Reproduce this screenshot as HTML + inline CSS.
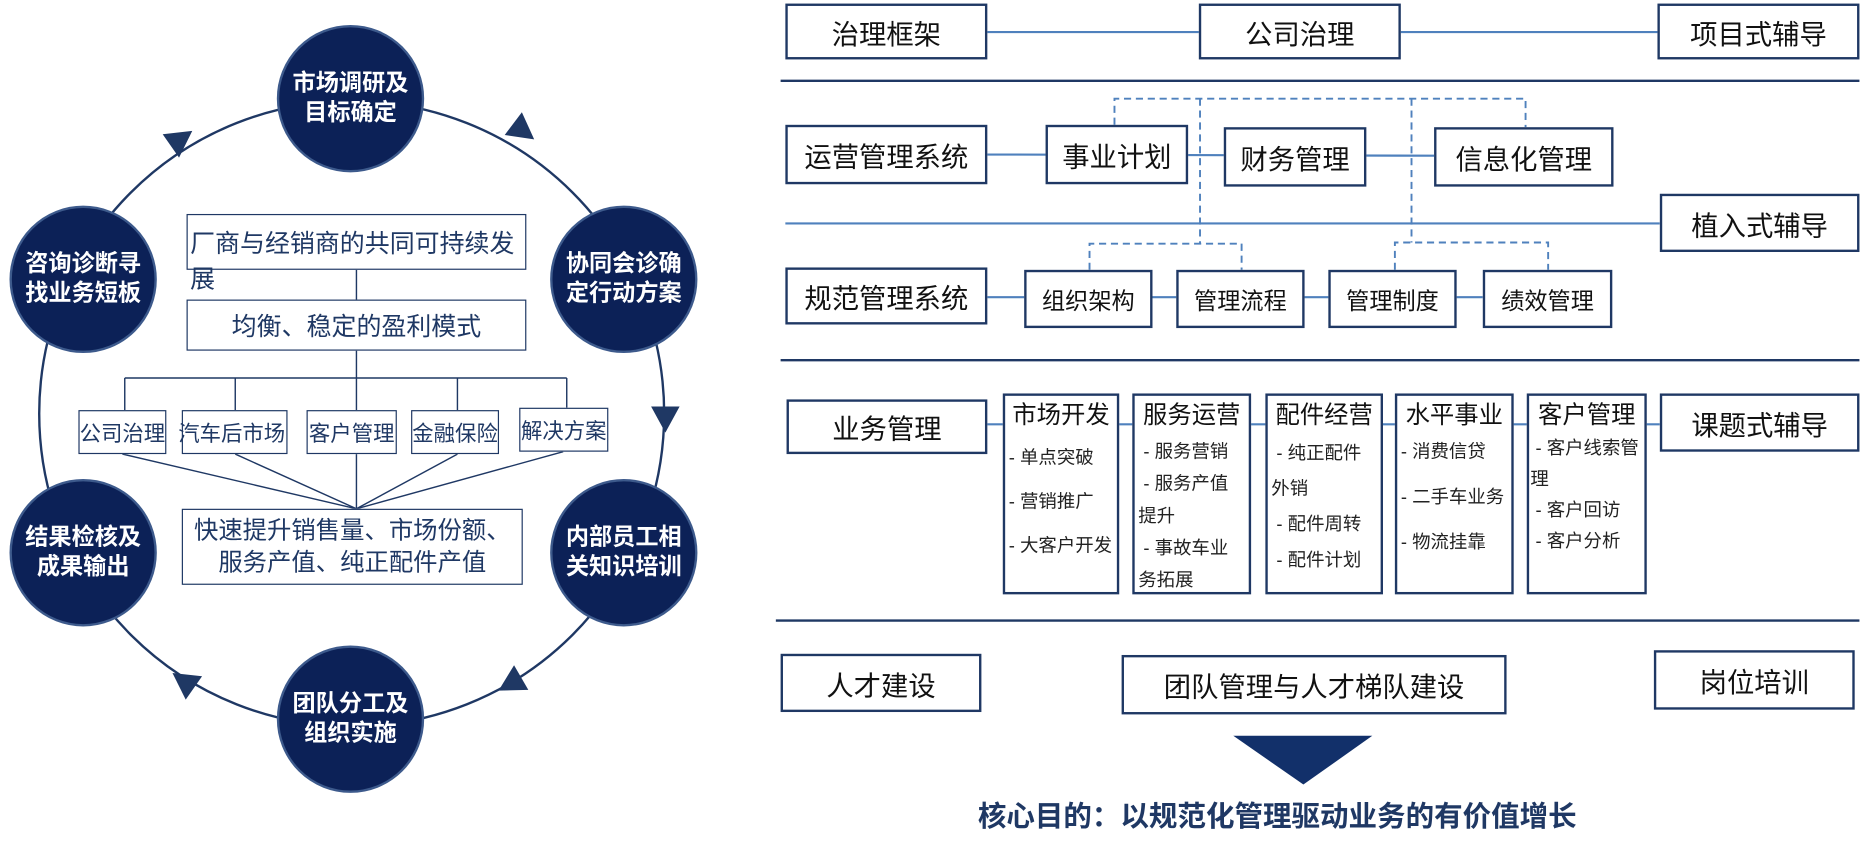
<!DOCTYPE html>
<html><head><meta charset="utf-8"><style>
html,body{margin:0;padding:0;background:#fff;width:1863px;height:844px;overflow:hidden}
#c{position:absolute;left:0;top:0;width:1568px;height:710px;transform:scale(1.18814,1.1887);transform-origin:0 0;font-family:"Liberation Sans","Noto Sans CJK SC",sans-serif}
.b{position:absolute;box-sizing:border-box;border:2.5px solid #1f3864;display:flex;align-items:center;justify-content:center;color:#111;font-size:23px;background:#fff;white-space:nowrap}
.n{position:absolute;width:124px;height:124px;border-radius:50%;background:#0c2157;border:2px solid #3d5a8c;box-sizing:border-box;color:#fff;font-weight:bold;font-size:19.5px;line-height:25px;display:flex;align-items:center;justify-content:center;text-align:center}
.s{border-width:1.5px;font-size:18px;color:#1f3864}
.col{position:absolute;box-sizing:border-box;border:2.5px solid #1f3864;background:#fff;color:#222;font-size:15.5px;line-height:27px;padding:0 3px;white-space:normal;overflow:visible}
.col .t{font-size:20.5px;text-align:center;line-height:34px;color:#111;margin:0 -3px;white-space:nowrap}
svg{position:absolute;left:0;top:0}
</style></head><body><div id="c">
<svg width="1568" height="710">
<circle cx="296" cy="348" r="263" fill="none" stroke="#1f3864" stroke-width="2"/>
<g fill="#1f3864">
<polygon points="-10,-12 12,0 -10,12" transform="translate(440,110) rotate(37)"/>
<polygon points="-10,-12 12,0 -10,12" transform="translate(560,352) rotate(90)"/>
<polygon points="-10,-12 12,0 -10,12" transform="translate(430,575) rotate(150)"/>
<polygon points="-10,-12 12,0 -10,12" transform="translate(155,573) rotate(215)"/>
<polygon points="-10,-12 12,0 -10,12" transform="translate(152,117) rotate(-35)"/>
</g>
<g stroke="#1f3864" stroke-width="1.2" fill="none">
<line x1="300" y1="227" x2="300" y2="252"/>
<line x1="300" y1="295" x2="300" y2="318"/>
<line x1="105" y1="318" x2="477" y2="318"/>
<line x1="105" y1="318" x2="105" y2="345"/><line x1="198" y1="318" x2="198" y2="345"/><line x1="300" y1="318" x2="300" y2="345"/><line x1="385" y1="318" x2="385" y2="345"/><line x1="477" y1="318" x2="477" y2="343"/>
<line x1="103" y1="382" x2="300" y2="428"/><line x1="198" y1="382" x2="300" y2="428"/><line x1="300" y1="382" x2="300" y2="428"/><line x1="385" y1="382" x2="300" y2="428"/><line x1="474" y1="380" x2="300" y2="428"/>
</g>
<g stroke="#4f81bd" stroke-width="1.8" fill="none">
<line x1="831" y1="27" x2="1395" y2="27"/>
<line x1="831" y1="130" x2="1207" y2="131"/>
<line x1="661" y1="188" x2="1397" y2="188"/>
<line x1="831" y1="250" x2="1248" y2="250"/>
<line x1="831" y1="357" x2="1397" y2="357"/>
</g>
<g stroke="#4f81bd" stroke-width="1.6" fill="none" stroke-dasharray="6,4">
<polyline points="938,105 938,83 1284,83 1284,107"/>
<line x1="1010" y1="83" x2="1010" y2="205"/>
<line x1="1188" y1="83" x2="1188" y2="204"/>
<polyline points="917,227 917,205 1045,205 1045,227"/>
<polyline points="1174,227 1174,204 1303,204 1303,227"/>
</g>
<g stroke="#1f3864" stroke-width="2">
<line x1="657" y1="68" x2="1565" y2="68"/>
<line x1="657" y1="303" x2="1565" y2="303"/>
<line x1="653" y1="522" x2="1565" y2="522"/>
</g>
<polygon points="1038,619 1155,619 1097,660" fill="#12306a"/>
</svg>

<div class="n" style="left:233px;top:21px">市场调研及<br>目标确定</div>
<div class="n" style="left:463px;top:173px">协同会诊确<br>定行动方案</div>
<div class="n" style="left:463px;top:403px">内部员工相<br>关知识培训</div>
<div class="n" style="left:233px;top:543px">团队分工及<br>组织实施</div>
<div class="n" style="left:8px;top:403px">结果检核及<br>成果输出</div>
<div class="n" style="left:8px;top:173px">咨询诊断寻<br>找业务短板</div>

<div class="b s" style="left:157px;top:180px;width:286px;height:47px;font-size:21px;align-items:flex-start;justify-content:flex-start;overflow:visible"><span style="position:absolute;left:2px;top:10px;width:281px;line-height:30px;white-space:normal">厂商与经销商的共同可持续发展</span></div>
<div class="b s" style="left:157px;top:252px;width:286px;height:43px;font-size:21px">均衡、稳定的盈利模式</div>
<div class="b s" style="left:66px;top:345px;width:74px;height:37px">公司治理</div>
<div class="b s" style="left:153px;top:345px;width:89px;height:37px;justify-content:flex-end;padding-right:1px">汽车后市场</div>
<div class="b s" style="left:258px;top:345px;width:76px;height:37px">客户管理</div>
<div class="b s" style="left:346px;top:345px;width:74px;height:37px">金融保险</div>
<div class="b s" style="left:437px;top:343px;width:75px;height:37px">解决方案</div>
<div class="b s" style="left:153px;top:428px;width:287px;height:64px;font-size:20.5px;line-height:27px;text-align:center;white-space:normal">快速提升销售量、市场份额、<br>服务产值、纯正配件产值</div>

<div class="b" style="left:661px;top:3px;width:170px;height:47px">治理框架</div>
<div class="b" style="left:1009px;top:3px;width:170px;height:47px">公司治理</div>
<div class="b" style="left:1395px;top:3px;width:170px;height:47px">项目式辅导</div>

<div class="b" style="left:661px;top:105px;width:170px;height:50px">运营管理系统</div>
<div class="b" style="left:880px;top:105px;width:120px;height:50px">事业计划</div>
<div class="b" style="left:1030px;top:107px;width:120px;height:50px">财务管理</div>
<div class="b" style="left:1207px;top:107px;width:151px;height:50px">信息化管理</div>
<div class="b" style="left:1397px;top:163px;width:168px;height:49px">植入式辅导</div>

<div class="b" style="left:661px;top:225px;width:170px;height:48px">规范管理系统</div>
<div class="b" style="left:862px;top:227px;width:108px;height:49px;font-size:19.5px">组织架构</div>
<div class="b" style="left:990px;top:227px;width:108px;height:49px;font-size:19.5px">管理流程</div>
<div class="b" style="left:1118px;top:227px;width:108px;height:49px;font-size:19.5px">管理制度</div>
<div class="b" style="left:1248px;top:227px;width:109px;height:49px;font-size:19.5px">绩效管理</div>

<div class="b" style="left:662px;top:336px;width:169px;height:46px">业务管理</div>
<div class="col" style="left:844px;top:331px;width:98px;height:169px"><div class="t">市场开发</div><div style="line-height:37px;white-space:nowrap">- 单点突破<br>- 营销推广<br>- 大客户开发</div></div>
<div class="col" style="left:953px;top:331px;width:100px;height:169px"><div class="t">服务运营</div><div>&nbsp;- 服务营销<br>&nbsp;- 服务产值提升<br>&nbsp;- 事故车业务拓展</div></div>
<div class="col" style="left:1065px;top:331px;width:99px;height:169px"><div class="t">配件经营</div><div style="line-height:30px">&nbsp;- 纯正配件外销<br>&nbsp;- 配件周转<br>&nbsp;- 配件计划</div></div>
<div class="col" style="left:1174px;top:331px;width:100px;height:169px"><div class="t">水平事业</div><div style="line-height:38px;margin-top:-5px;white-space:nowrap">- 消费信贷<br>- 二手车业务<br>- 物流挂靠</div></div>
<div class="col" style="left:1285px;top:331px;width:101px;height:169px;padding:0 1px"><div class="t">客户管理</div><div style="line-height:26px;margin-top:-2px">&nbsp;- 客户线索管理<br>&nbsp;- 客户回访<br>&nbsp;- 客户分析</div></div>
<div class="b" style="left:1397px;top:331px;width:168px;height:49px">课题式辅导</div>

<div class="b" style="left:657px;top:550px;width:169px;height:49px">人才建设</div>
<div class="b" style="left:944px;top:551px;width:324px;height:50px">团队管理与人才梯队建设</div>
<div class="b" style="left:1392px;top:547px;width:169px;height:50px">岗位培训</div>

<div style="position:absolute;left:775px;top:667px;width:600px;text-align:center;font-size:24px;font-weight:bold;color:#1f3864;white-space:nowrap">核心目的：以规范化管理驱动业务的有价值增长</div>
</div></body></html>
